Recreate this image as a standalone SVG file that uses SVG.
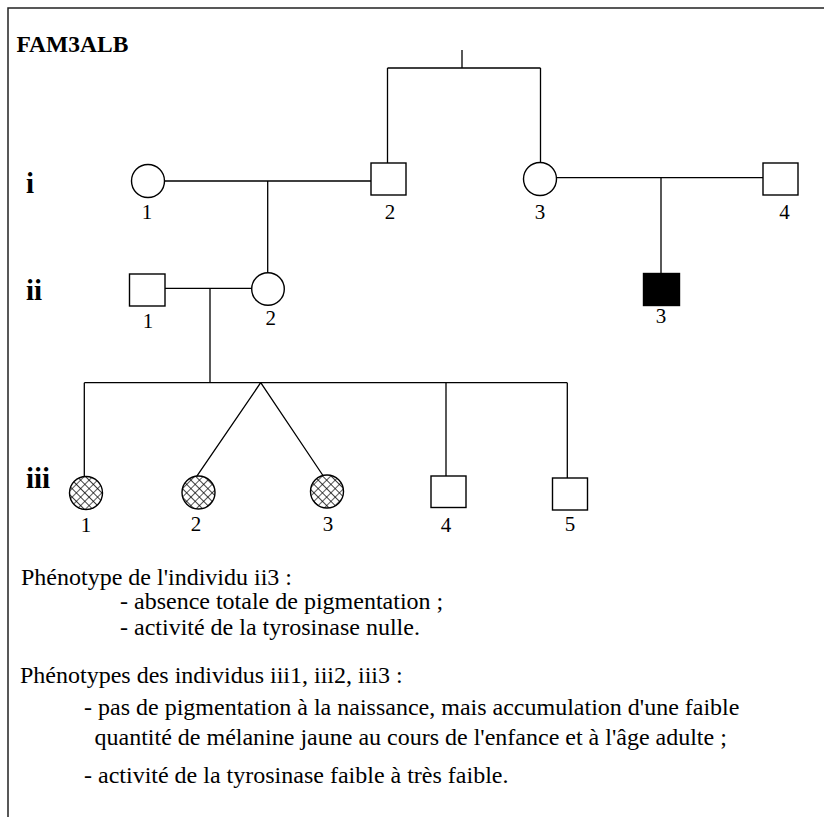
<svg xmlns="http://www.w3.org/2000/svg" width="824" height="817" viewBox="0 0 824 817">
  <defs>
    <pattern id="hatch" width="6" height="6" patternUnits="userSpaceOnUse" patternTransform="rotate(45)">
      <rect width="6" height="6" fill="#fff"/>
      <path d="M0 0 V6 M0 0 H6" stroke="#000" stroke-width="1.3"/>
    </pattern>
  </defs>
  <style>
    .frame { fill: none; stroke: #222; stroke-width: 1.5; }
    .sym { fill: #fff; stroke: #000; stroke-width: 1.4; }
    .affected { fill: #000; stroke: #000; stroke-width: 1.4; }
    .partial { fill: url(#hatch); stroke: #000; stroke-width: 1.4; }
    .line { fill: none; stroke: #000; stroke-width: 1.3; }
    .num { font-family: "Liberation Serif", "DejaVu Serif", serif; font-size: 21px; text-anchor: middle; fill: #000; }
    .gen { font-family: "Liberation Serif", "DejaVu Serif", serif; font-size: 29px; font-weight: bold; fill: #000; }
    .title { font-family: "Liberation Serif", "DejaVu Serif", serif; font-size: 23.5px; font-weight: bold; fill: #000; }
    .body { font-family: "Liberation Serif", "DejaVu Serif", serif; font-size: 24px; fill: #000; }
  </style>

  <!-- open frame: top and left edges only -->
  <path class="frame" d="M8 817 V8 H824"/>

  <text class="title" x="16.5" y="52">FAM3ALB</text>

  <!-- generation labels -->
  <text class="gen" x="26" y="193">i</text>
  <text class="gen" x="26" y="300">ii</text>
  <text class="gen" x="26" y="488">iii</text>

  <!-- connectors -->
  <g id="connectors">
    <path class="line" d="M462 50 V68 M387.5 68 H540.5 M387.5 68 V163 M540.5 68 V162.5"/>
    <path class="line" d="M165 181 H371 M267.7 181 V273"/>
    <path class="line" d="M556.5 177.7 H763 M661 177.7 V273.5"/>
    <path class="line" d="M165 288.3 H252 M210 288.3 V382.7"/>
    <path class="line" d="M84.3 382.7 H567.3 M84.3 382.7 V476.5 M260.7 382.7 L196.7 476.3 M260.7 382.7 L323.3 476 M446 382.7 V476 M567.3 382.7 V478"/>
  </g>

  <!-- generation i -->
  <g id="i1"><circle class="sym" cx="148" cy="181" r="16.5"/><text class="num" x="147" y="219">1</text></g>
  <g id="i2"><rect class="sym" x="371" y="163" width="35" height="32"/><text class="num" x="390" y="219">2</text></g>
  <g id="i3"><circle class="sym" cx="540" cy="179" r="16.5"/><text class="num" x="540" y="219">3</text></g>
  <g id="i4"><rect class="sym" x="763" y="163" width="35" height="32"/><text class="num" x="784.5" y="219">4</text></g>

  <!-- generation ii -->
  <g id="ii1"><rect class="sym" x="129.5" y="274" width="35.5" height="32"/><text class="num" x="148" y="328">1</text></g>
  <g id="ii2"><circle class="sym" cx="268" cy="289" r="16.3"/><text class="num" x="270.7" y="325">2</text></g>
  <g id="ii3"><rect class="affected" x="643.5" y="273.5" width="36" height="32"/><text class="num" x="661" y="323">3</text></g>

  <!-- generation iii -->
  <g id="iii1"><circle class="partial" cx="86" cy="493" r="16.5"/><text class="num" x="86" y="531.5">1</text></g>
  <g id="iii2"><circle class="partial" cx="198.5" cy="492.5" r="16.5"/><text class="num" x="196" y="531">2</text></g>
  <g id="iii3"><circle class="partial" cx="327" cy="491.5" r="16.5"/><text class="num" x="328" y="531">3</text></g>
  <g id="iii4"><rect class="sym" x="431" y="476" width="35" height="31.5"/><text class="num" x="446" y="531.5">4</text></g>
  <g id="iii5"><rect class="sym" x="552.5" y="478" width="35" height="32"/><text class="num" x="570" y="531">5</text></g>

  <!-- phenotype notes -->
  <g id="notes">
    <text class="body" x="21" y="585">Phénotype de l'individu ii3 :</text>
    <text class="body" x="120" y="609">- absence totale de pigmentation ;</text>
    <text class="body" x="120" y="635">- activité de la tyrosinase nulle.</text>
    <text class="body" x="20" y="683">Phénotypes des individus iii1, iii2, iii3 :</text>
    <text class="body" x="84" y="715">- pas de pigmentation à la naissance, mais accumulation d'une faible</text>
    <text class="body" x="94.5" y="745">quantité de mélanine jaune au cours de l'enfance et à l'âge adulte ;</text>
    <text class="body" x="84" y="783">- activité de la tyrosinase faible à très faible.</text>
  </g>
</svg>
